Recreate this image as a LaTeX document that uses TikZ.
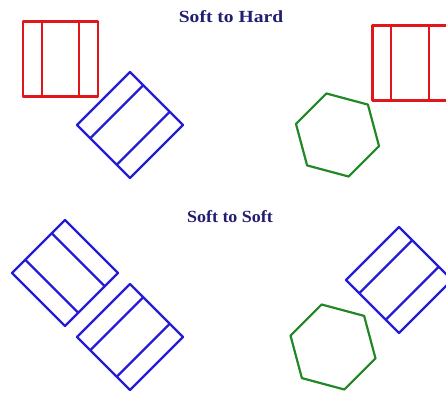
\documentclass[tikz,border=0pt]{standalone}
\usepackage{fontspec}
\setmainfont{Liberation Serif}
\definecolor{padred}{RGB}{224,22,26}
\definecolor{padblue}{RGB}{38,28,214}
\definecolor{hexgreen}{RGB}{34,136,38}
\definecolor{titlenavy}{RGB}{34,30,112}
\begin{document}
\begin{tikzpicture}[x=1pt,y=1pt,line join=round,
    pad/.style={line width=2.2pt},
    hex/.style={line width=2.2pt,draw=hexgreen},
    title/.style={text=titlenavy,font=\bfseries\fontsize{17}{20}\selectfont,xscale=1.15}]
  \useasboundingbox (0,0) rectangle (446,394);
  % headings
  \node[title] (hardtitle) at (231,377) {Soft to Hard};
  \node[title,xscale=.92] (softtitle) at (230,177) {Soft to Soft};
  % pads: centre / rotation / colour
  \foreach \cx/\cy/\r/\c in {60.5/335/0/padred, 130/269/-45/padblue,
      410/331/0/padred, 65/121/45/padblue, 130/57/-45/padblue,
      399/114/-45/padblue}{
    \begin{scope}[shift={(\cx,\cy)},rotate=\r]
      \draw[pad,\c] (-37.5,-37.5) rectangle (37.5,37.5)
        (-18.75,-37.5)--(-18.75,37.5) (18.75,-37.5)--(18.75,37.5);
    \end{scope}
  }
  % hard parts
  \foreach \cx/\cy/\rr in {337.5/259/43, 333/47/44}{
    \draw[hex,shift={(\cx,\cy)}] (-15:\rr)
      \foreach \a in {45,105,...,285}{--(\a:\rr)} --cycle;
  }
\end{tikzpicture}
\end{document}
